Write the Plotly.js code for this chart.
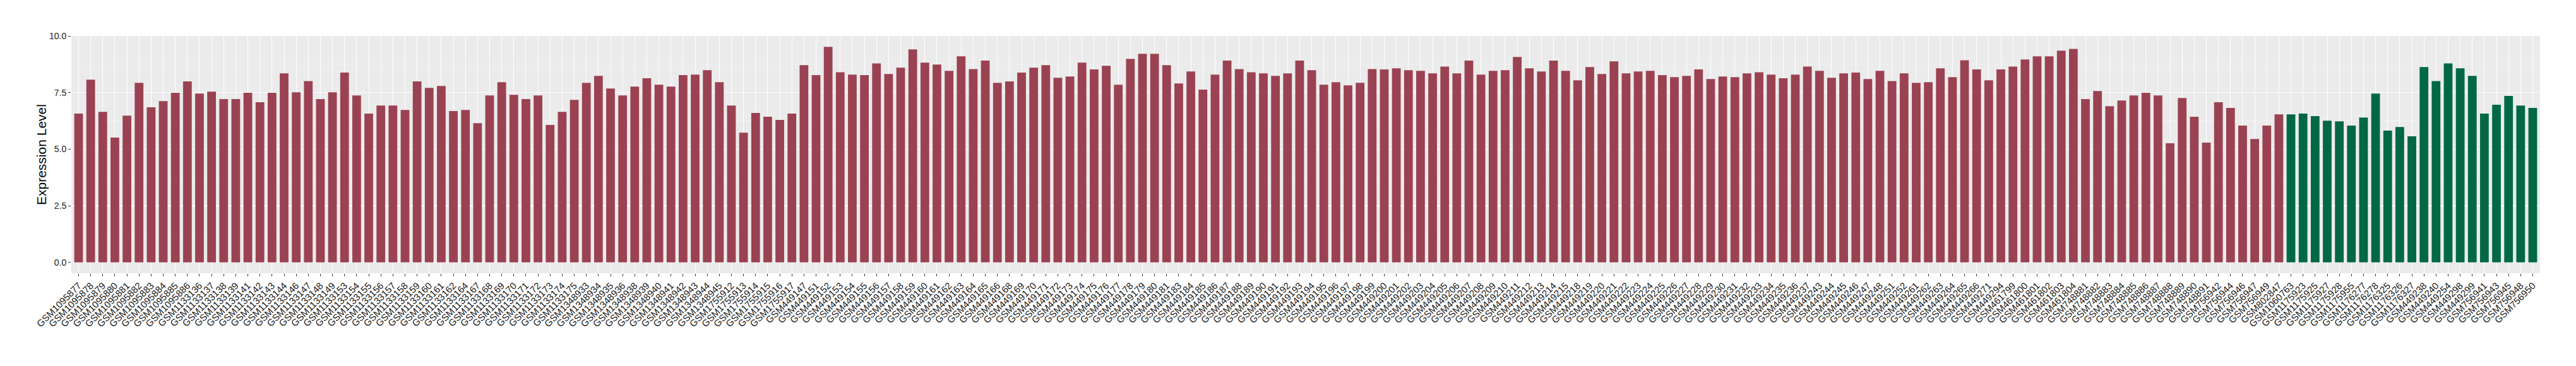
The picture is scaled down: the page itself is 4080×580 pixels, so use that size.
<!DOCTYPE html>
<html>
<head>
<meta charset="utf-8">
<script src="https://cdn.plot.ly/plotly-3.0.1.min.js"></script>
<style>html,body{margin:0;padding:0;background:#fff;}#chart{width:4080px;height:580px;}</style>
</head>
<body>
<div id="chart"></div>
<script>
// Red group samples (in plotting order)
const redSamples = [
"GSM1095877","GSM1095878","GSM1095879","GSM1095880","GSM1095881","GSM1095882","GSM1095883","GSM1095884","GSM1095885","GSM1095886",
"GSM1133136","GSM1133137","GSM1133138","GSM1133139","GSM1133141","GSM1133142","GSM1133143","GSM1133144","GSM1133146","GSM1133147",
"GSM1133148","GSM1133149","GSM1133153","GSM1133154","GSM1133155","GSM1133156","GSM1133157","GSM1133158","GSM1133159","GSM1133160",
"GSM1133161","GSM1133162","GSM1133164","GSM1133167","GSM1133168","GSM1133169","GSM1133170","GSM1133171","GSM1133172","GSM1133173",
"GSM1133174","GSM1133175",
"GSM1348933","GSM1348934","GSM1348935","GSM1348936","GSM1348938","GSM1348939","GSM1348940","GSM1348941","GSM1348942","GSM1348943",
"GSM1348944","GSM1348945",
"GSM1755912","GSM1755913","GSM1755914","GSM1755915","GSM1755916","GSM1755917",
"GSM449147","GSM449151","GSM449152","GSM449153","GSM449154","GSM449155","GSM449156","GSM449157","GSM449158","GSM449159",
"GSM449160","GSM449161","GSM449162","GSM449163","GSM449164","GSM449165","GSM449166","GSM449168","GSM449169","GSM449170",
"GSM449171","GSM449172","GSM449173","GSM449174","GSM449175","GSM449176","GSM449177","GSM449178","GSM449179","GSM449180",
"GSM449181","GSM449183","GSM449184","GSM449185","GSM449186","GSM449187","GSM449188","GSM449189","GSM449190","GSM449191",
"GSM449192","GSM449193","GSM449194","GSM449195","GSM449196","GSM449197","GSM449198","GSM449199","GSM449200","GSM449201",
"GSM449202","GSM449203","GSM449204","GSM449205","GSM449206","GSM449207","GSM449208","GSM449209","GSM449210","GSM449211",
"GSM449212","GSM449213","GSM449214","GSM449215","GSM449218","GSM449219","GSM449220","GSM449221","GSM449222","GSM449223",
"GSM449224","GSM449225","GSM449226","GSM449227","GSM449228","GSM449229","GSM449230","GSM449231","GSM449232","GSM449233",
"GSM449234","GSM449235","GSM449236","GSM449237","GSM449243","GSM449244","GSM449245","GSM449246","GSM449247","GSM449248",
"GSM449251","GSM449252","GSM449261","GSM449262","GSM449263","GSM449264","GSM449265","GSM449266","GSM449271","GSM449294",
"GSM461799","GSM461800","GSM461801","GSM461802","GSM461803","GSM461804",
"GSM748881","GSM748882","GSM748883","GSM748884","GSM748885","GSM748886","GSM748887","GSM748888","GSM748889","GSM748890",
"GSM748891",
"GSM756942","GSM756944","GSM756946","GSM756947","GSM756949","GSM802847"
];
const redValues = [
6.57,8.07,6.65,5.51,6.48,7.93,6.85,7.12,7.49,7.99,
7.46,7.54,7.21,7.21,7.49,7.07,7.49,8.35,7.51,8.01,
7.21,7.51,8.38,7.37,6.57,6.93,6.93,6.73,7.99,7.71,
7.79,6.68,6.73,6.15,7.37,7.96,7.40,7.21,7.37,6.07,
6.65,7.18,
7.93,8.24,7.68,7.37,7.76,8.13,7.85,7.76,8.27,8.29,
8.49,7.96,
6.93,5.73,6.60,6.43,6.29,6.57,
8.71,8.27,9.52,8.40,8.29,8.27,8.79,8.32,8.60,9.41,
8.82,8.74,8.46,9.10,8.54,8.91,7.93,7.99,8.38,8.60,
8.71,8.15,8.21,8.82,8.52,8.68,7.85,8.99,9.21,9.21,
8.71,7.90,8.43,7.63,8.29,8.91,8.54,8.40,8.35,8.24,
8.35,8.91,8.49,7.85,7.96,7.82,7.93,8.54,8.52,8.57,
8.49,8.46,8.35,8.65,8.35,8.91,8.29,8.46,8.49,9.07,
8.57,8.43,8.91,8.46,8.04,8.63,8.32,8.88,8.35,8.43,
8.46,8.27,8.18,8.24,8.52,8.10,8.21,8.18,8.35,8.40,
8.29,8.13,8.29,8.65,8.46,8.15,8.35,8.38,8.10,8.46,
8.01,8.35,7.93,7.96,8.57,8.18,8.93,8.52,8.04,8.52,
8.65,8.96,9.10,9.10,9.35,9.43,
7.21,7.57,6.90,7.15,7.37,7.49,7.37,5.26,7.26,6.43,
5.29,
7.07,6.82,6.04,5.45,6.04,6.54
];
// Green group samples
const greenSamples = [
"GSM1060763","GSM1175923","GSM1175925","GSM1175927","GSM1175928","GSM1175955","GSM1176277","GSM1176278","GSM1176325","GSM1176326",
"GSM1176327","GSM449238","GSM449240","GSM449254","GSM449298","GSM449299","GSM756941","GSM756943","GSM756945","GSM756948",
"GSM756950"
];
const greenValues = [
6.54,6.57,6.46,6.26,6.23,6.04,6.40,7.46,5.82,5.98,
5.57,8.63,8.01,8.79,8.57,8.24,6.57,6.96,7.35,6.93,
6.82
];
const yTickVals = [0, 2.5, 5, 7.5, 10];
const yTickText = ["0.0", "2.5", "5.0", "7.5", "10.0"];
const yTitle = "Expression Level";

const allSamples = redSamples.concat(greenSamples);
const RED = "#9B4252", GREEN = "#006845";

const traces = [
  {type: "bar", x: redSamples, y: redValues, width: 0.72, marker: {color: RED}, showlegend: false, hoverinfo: "x+y"},
  {type: "bar", x: greenSamples, y: greenValues, width: 0.72, marker: {color: GREEN}, showlegend: false, hoverinfo: "x+y"}
];

const plotLeft = 113, plotWidth = 4080 - 113 - 57;

const layout = {
  width: 4080, height: 580,
  margin: {l: plotLeft, r: 57, t: 57, b: 147, pad: 0},
  paper_bgcolor: "#FFFFFF",
  plot_bgcolor: "#EBEBEB",
  barmode: "overlay",
  showlegend: false,
  font: {family: "Liberation Sans, Arial, sans-serif", color: "#333333"},
  xaxis: {
    type: "category",
    categoryorder: "array",
    categoryarray: allSamples,
    range: [-0.6, allSamples.length - 0.4],
    tickangle: -45,
    tickfont: {size: 15, color: "#1A1A1A", family: "Liberation Sans, Arial, sans-serif"},
    ticks: "outside", ticklen: 4, tickwidth: 1, tickcolor: "#333333",
    showgrid: true, gridcolor: "#FFFFFF", gridwidth: 1,
    zeroline: false, showline: false, automargin: false
  },
  yaxis: {
    range: [-0.48, 10],
    tickmode: "array", tickvals: yTickVals, ticktext: yTickText,
    tickfont: {size: 14, color: "#1A1A1A"},
    ticks: "outside", ticklen: 4, tickwidth: 1, tickcolor: "#333333",
    showgrid: true, gridcolor: "#FFFFFF", gridwidth: 1.3,
    minor: {tickmode: "array", tickvals: [1.25, 3.75, 6.25, 8.75], showgrid: true, gridcolor: "#F7F7F7", gridwidth: 0.7, ticks: ""},
    zeroline: false, showline: false, automargin: false
  },
  annotations: [{
    text: yTitle, textangle: -90, showarrow: false,
    xref: "paper", yref: "paper",
    x: (65 - plotLeft) / plotWidth, y: 0.5,
    xanchor: "center", yanchor: "middle",
    font: {size: 21, color: "#000000", family: "Liberation Sans, Arial, sans-serif"}
  }]
};

Plotly.newPlot("chart", traces, layout, {staticPlot: true, displayModeBar: false});
</script>
</body>
</html>
